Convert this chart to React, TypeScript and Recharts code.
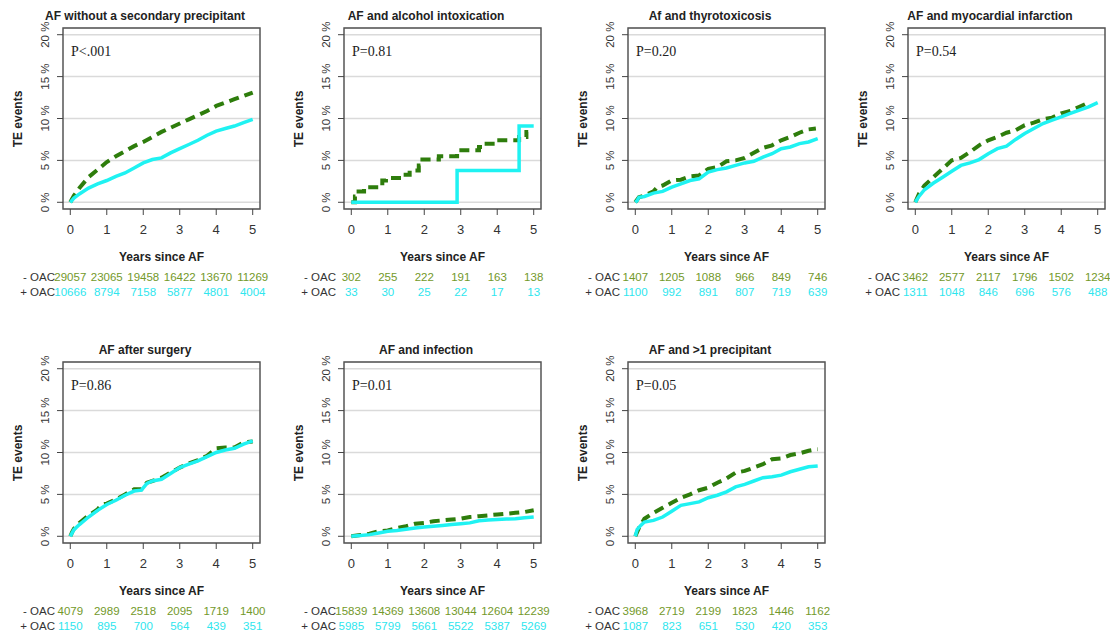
import React from 'react';
import { LineChart, Line, XAxis, YAxis, CartesianGrid, ReferenceArea } from 'recharts';

// ---------- data ----------
const yearTicks = [0, 1, 2, 3, 4, 5];
const pctTicks = [0, 5, 10, 15, 20];
const pctLabels = ['0 %', '5 %', '10 %', '15 %', '20 %'];

const panelTitles = [
  'AF without a secondary precipitant',
  'AF and alcohol intoxication',
  'Af and thyrotoxicosis',
  'AF and myocardial infarction',
  'AF after surgery',
  'AF and infection',
  'AF and >1 precipitant',
];
const pValues = ['P<.001', 'P=0.81', 'P=0.20', 'P=0.54', 'P=0.86', 'P=0.01', 'P=0.05'];

// numbers at risk
const riskNoOac1 = [29057, 23065, 19458, 16422, 13670, 11269];
const riskOac1 = [10666, 8794, 7158, 5877, 4801, 4004];
const riskNoOac2 = [302, 255, 222, 191, 163, 138];
const riskOac2 = [33, 30, 25, 22, 17, 13];
const riskNoOac3 = [1407, 1205, 1088, 966, 849, 746];
const riskOac3 = [1100, 992, 891, 807, 719, 639];
const riskNoOac4 = [3462, 2577, 2117, 1796, 1502, 1234];
const riskOac4 = [1311, 1048, 846, 696, 576, 488];
const riskNoOac5 = [4079, 2989, 2518, 2095, 1719, 1400];
const riskOac5 = [1150, 895, 700, 564, 439, 351];
const riskNoOac6 = [15839, 14369, 13608, 13044, 12604, 12239];
const riskOac6 = [5985, 5799, 5661, 5522, 5387, 5269];
const riskNoOac7 = [3968, 2719, 2199, 1823, 1446, 1162];
const riskOac7 = [1087, 823, 651, 530, 420, 353];

// cumulative incidence curves [years, %]
const curveNoOac1: [number, number][] = [[0,0],[0.1,0.8],[0.25,1.7],[0.5,3.0],[0.75,3.9],[1,4.8],[1.25,5.5],[1.5,6.1],[1.75,6.7],[2,7.2],[2.25,7.8],[2.5,8.4],[2.75,8.9],[3,9.4],[3.25,9.9],[3.5,10.4],[3.75,10.9],[4,11.5],[4.25,11.9],[4.5,12.3],[4.75,12.7],[5,13.1]];
const curveOac1: [number, number][] = [[0,0],[0.1,0.5],[0.25,1.0],[0.5,1.7],[0.75,2.2],[1,2.6],[1.25,3.1],[1.5,3.5],[1.75,4.1],[2,4.7],[2.25,5.1],[2.5,5.3],[2.75,5.9],[3,6.4],[3.25,6.9],[3.5,7.4],[3.75,8.0],[4,8.5],[4.25,8.8],[4.5,9.1],[4.75,9.5],[5,9.9]];
const curveNoOac2: [number, number][] = [[0,0],[0.1,0.7],[0.2,1.3],[0.35,1.8],[0.85,2.6],[0.95,2.9],[1.4,3.3],[1.6,3.8],[1.85,4.4],[1.95,5.1],[2.4,5.5],[2.9,6.2],[3.5,6.6],[3.6,7.0],[4.0,7.4],[4.6,7.8],[4.8,8.4],[4.85,8.4]];
const curveOac2: [number, number][] = [[0,0],[2.9,3.8],[4.6,9.1],[5,9.1]];
const curveNoOac3: [number, number][] = [[0,0],[0.1,0.6],[0.25,0.8],[0.5,1.3],[0.6,1.8],[0.75,2.0],[1,2.6],[1.25,2.7],[1.5,3.1],[1.75,3.2],[2,4.0],[2.25,4.2],[2.5,4.9],[2.75,5.0],[3,5.3],[3.25,5.9],[3.5,6.5],[3.75,6.8],[4,7.4],[4.25,7.8],[4.5,8.3],[4.75,8.7],[4.95,8.8]];
const curveOac3: [number, number][] = [[0,0],[0.05,0.2],[0.1,0.6],[0.25,0.7],[0.5,1.1],[0.75,1.3],[1,1.8],[1.25,2.2],[1.5,2.6],[1.75,2.8],[2,3.6],[2.25,3.9],[2.5,4.1],[2.75,4.4],[3,4.7],[3.25,4.9],[3.5,5.4],[3.75,5.8],[4,6.4],[4.25,6.6],[4.5,7.0],[4.75,7.2],[5,7.6]];
const curveNoOac4: [number, number][] = [[0,0],[0.1,1.0],[0.25,2.0],[0.5,3.0],[0.75,4.0],[1,5.0],[1.25,5.3],[1.5,6.0],[1.75,6.8],[2,7.4],[2.25,7.8],[2.5,8.3],[2.75,8.6],[3,9.2],[3.25,9.5],[3.5,9.9],[3.75,10.1],[4,10.6],[4.25,10.9],[4.5,11.4],[4.75,11.9]];
const curveOac4: [number, number][] = [[0,0],[0.1,0.7],[0.25,1.5],[0.5,2.3],[0.75,3.0],[1,3.7],[1.25,4.4],[1.5,4.7],[1.75,5.1],[2,5.8],[2.25,6.4],[2.5,6.7],[2.75,7.5],[3,8.2],[3.25,8.8],[3.5,9.4],[3.75,9.8],[4,10.2],[4.25,10.6],[4.5,11.0],[4.75,11.4],[5,11.9]];
const curveNoOac5: [number, number][] = [[0,0],[0.05,0.5],[0.1,0.9],[0.25,1.6],[0.5,2.5],[0.75,3.2],[0.85,3.8],[1,3.9],[1.25,4.4],[1.5,5.0],[1.75,5.6],[1.95,5.6],[2.1,6.4],[2.25,6.6],[2.5,7.0],[2.75,7.6],[3,8.2],[3.25,8.7],[3.5,9.1],[3.75,9.6],[4,10.5],[4.25,10.6],[4.5,10.6],[4.75,11.2],[5,11.3]];
const curveOac5: [number, number][] = [[0,0],[0.05,0.4],[0.1,0.8],[0.25,1.4],[0.5,2.3],[0.75,3.1],[1,3.8],[1.25,4.3],[1.5,4.9],[1.75,5.4],[1.95,5.5],[2.1,6.3],[2.25,6.6],[2.5,6.8],[2.75,7.5],[3,8.2],[3.25,8.6],[3.5,9.0],[3.75,9.5],[4,10.0],[4.25,10.3],[4.5,10.5],[4.75,11.0],[5,11.4]];
const curveNoOac6: [number, number][] = [[0,0],[0.25,0.15],[0.5,0.3],[0.75,0.6],[1,0.7],[1.25,1.0],[1.5,1.2],[1.75,1.5],[2,1.6],[2.25,1.8],[2.5,1.9],[2.75,2.0],[3,2.1],[3.25,2.3],[3.5,2.4],[3.75,2.5],[4,2.6],[4.25,2.7],[4.5,2.8],[4.75,2.9],[5,3.1]];
const curveOac6: [number, number][] = [[0,0],[0.25,0.1],[0.5,0.2],[0.75,0.4],[1,0.6],[1.25,0.7],[1.5,0.85],[1.75,1.0],[2,1.1],[2.25,1.2],[2.5,1.3],[2.75,1.4],[3,1.5],[3.25,1.6],[3.5,1.85],[3.75,1.95],[4,2.0],[4.25,2.05],[4.5,2.1],[4.75,2.2],[5,2.3]];
const curveNoOac7: [number, number][] = [[0,0],[0.1,1.0],[0.25,2.1],[0.5,2.8],[0.75,3.4],[1,4.0],[1.25,4.6],[1.5,5.0],[1.75,5.5],[2,5.8],[2.25,6.4],[2.5,6.9],[2.75,7.6],[3,7.8],[3.25,8.2],[3.5,8.6],[3.75,9.2],[4,9.3],[4.25,9.7],[4.5,9.9],[4.75,10.2],[5,10.4]];
const curveOac7: [number, number][] = [[0,0],[0.05,0.8],[0.15,1.3],[0.25,1.7],[0.5,1.9],[0.75,2.3],[1,3.0],[1.25,3.7],[1.5,3.9],[1.75,4.1],[2,4.6],[2.25,4.9],[2.5,5.3],[2.75,5.9],[3,6.2],[3.25,6.6],[3.5,7.0],[3.75,7.1],[4,7.3],[4.25,7.7],[4.5,8.0],[4.75,8.3],[5,8.4]];

// ---------- styles ----------
const GREEN = '#2E7D0C';
const CYAN = '#1FF2F2';
const GREEN_NUM = '#73992A';
const CYAN_NUM = '#2EE6EE';
const TEXT = '#333333';
const SANS = '"Liberation Sans", Arial, sans-serif';
const SERIF = '"Liberation Serif", "Times New Roman", serif';

const CH_W = 280;
const CH_H = 300;
const M_TOP = 28;
const M_RIGHT = 20;
const Y_W = 63;
const X_H = 91;

type PanelSpec = {
  left: number;
  top: number;
  title: string;
  p: string;
  noOac: [number, number][];
  oac: [number, number][];
  riskNo: number[];
  riskYes: number[];
  step?: boolean;
};

const toRows = (c: [number, number][]) => c.map(([t, v]) => ({ t, v }));

const makeXTick = (riskNo: number[], riskYes: number[]) => (props: any) => {
  const { x, y, payload } = props;
  const i = yearTicks.indexOf(payload.value);
  return (
    <g>
      <text x={x} y={y + 17} textAnchor="middle" fontSize={13} fill={TEXT} fontFamily={SANS}>
        {payload.value}
      </text>
      <text x={x} y={y + 64} textAnchor="middle" fontSize={11.5} fill={GREEN_NUM} fontFamily={SANS}>
        {riskNo[i]}
      </text>
      <text x={x} y={y + 79} textAnchor="middle" fontSize={11.5} fill={CYAN_NUM} fontFamily={SANS}>
        {riskYes[i]}
      </text>
    </g>
  );
};

const YTick = (props: any) => {
  const { x, y, payload } = props;
  const i = pctTicks.indexOf(payload.value);
  const bx = x - 6;
  return (
    <text
      x={bx}
      y={y}
      transform={`rotate(-90, ${bx}, ${y})`}
      textAnchor="middle"
      fontSize={11.5}
      fill={TEXT}
      fontFamily={SANS}
    >
      {pctLabels[i]}
    </text>
  );
};

function Panel({ spec }: { spec: PanelSpec }) {
  const plotL = Y_W;
  const plotR = CH_W - M_RIGHT;
  const plotCx = (plotL + plotR) / 2;
  const plotCy = (M_TOP + (CH_H - X_H)) / 2;
  return (
    <div style={{ position: 'absolute', left: spec.left, top: spec.top, width: CH_W, height: CH_H }}>
      <LineChart width={CH_W} height={CH_H} margin={{ top: M_TOP, right: M_RIGHT, bottom: 0, left: 0 }}>
        <CartesianGrid horizontal vertical={false} stroke="#dadada" strokeWidth={1.5} />
        <XAxis
          dataKey="t"
          type="number"
          domain={[-0.2, 5.2]}
          ticks={yearTicks}
          allowDataOverflow
          height={X_H}
          axisLine={false}
          tickLine={{ stroke: '#444', strokeWidth: 1 }}
          tickSize={6}
          tick={makeXTick(spec.riskNo, spec.riskYes)}
          interval={0}
        />
        <YAxis
          type="number"
          domain={[-0.8, 20.8]}
          ticks={pctTicks}
          allowDataOverflow
          width={Y_W}
          axisLine={false}
          tickLine={{ stroke: '#444', strokeWidth: 1 }}
          tickSize={6}
          tick={<YTick />}
          interval={0}
        />
        <ReferenceArea x1={-0.2} x2={5.2} y1={-0.8} y2={20.8} fill="none" stroke="#555" strokeWidth={1.5} />
        <Line
          data={toRows(spec.noOac)}
          dataKey="v"
          type={spec.step ? 'stepAfter' : 'linear'}
          stroke={GREEN}
          strokeWidth={4}
          strokeDasharray="10 6"
          dot={false}
          isAnimationActive={false}
        />
        <Line
          data={toRows(spec.oac)}
          dataKey="v"
          type={spec.step ? 'stepAfter' : 'linear'}
          stroke={CYAN}
          strokeWidth={3.5}
          dot={false}
          isAnimationActive={false}
        />
      </LineChart>
      {/* title */}
      <div
        style={{
          position: 'absolute', left: 145 - 150, width: 300, top: 8, textAlign: 'center',
          fontFamily: SANS, fontWeight: 'bold', fontSize: 12, color: '#222', lineHeight: '16px',
        }}
      >
        {spec.title}
      </div>
      {/* y label */}
      <div
        style={{
          position: 'absolute', left: 18 - 50, top: plotCy - 8, width: 100, height: 16, lineHeight: '16px',
          textAlign: 'center', transform: 'rotate(-90deg)', fontFamily: SANS, fontWeight: 'bold', fontSize: 12, color: '#222',
        }}
      >
        TE events
      </div>
      {/* p value */}
      <div
        style={{
          position: 'absolute', left: plotL + 8, top: 43, fontFamily: SERIF, fontSize: 14, color: '#222', lineHeight: '18px',
        }}
      >
        {spec.p}
      </div>
      {/* x label */}
      <div
        style={{
          position: 'absolute', left: plotCx - 100, width: 200, top: 249, textAlign: 'center',
          fontFamily: SANS, fontWeight: 'bold', fontSize: 12, color: '#222', lineHeight: '16px',
        }}
      >
        Years since AF
      </div>
      {/* risk table row labels */}
      <div
        style={{
          position: 'absolute', left: 0, width: 55, top: 270, textAlign: 'right',
          fontFamily: SANS, fontSize: 11.5, color: TEXT, lineHeight: '15px',
        }}
      >
        - OAC
        <br />+ OAC
      </div>
    </div>
  );
}

const panels: PanelSpec[] = [
  { left: 0, top: 0, title: panelTitles[0], p: pValues[0], noOac: curveNoOac1, oac: curveOac1, riskNo: riskNoOac1, riskYes: riskOac1 },
  { left: 281, top: 0, title: panelTitles[1], p: pValues[1], noOac: curveNoOac2, oac: curveOac2, riskNo: riskNoOac2, riskYes: riskOac2, step: true },
  { left: 565, top: 0, title: panelTitles[2], p: pValues[2], noOac: curveNoOac3, oac: curveOac3, riskNo: riskNoOac3, riskYes: riskOac3 },
  { left: 845, top: 0, title: panelTitles[3], p: pValues[3], noOac: curveNoOac4, oac: curveOac4, riskNo: riskNoOac4, riskYes: riskOac4 },
  { left: 0, top: 334, title: panelTitles[4], p: pValues[4], noOac: curveNoOac5, oac: curveOac5, riskNo: riskNoOac5, riskYes: riskOac5 },
  { left: 281, top: 334, title: panelTitles[5], p: pValues[5], noOac: curveNoOac6, oac: curveOac6, riskNo: riskNoOac6, riskYes: riskOac6 },
  { left: 565, top: 334, title: panelTitles[6], p: pValues[6], noOac: curveNoOac7, oac: curveOac7, riskNo: riskNoOac7, riskYes: riskOac7 },
];

export default function App() {
  return (
    <div
      style={{
        position: 'absolute', left: 0, top: 0, width: 1110, height: 632, background: '#fff', overflow: 'hidden',
        fontFamily: SANS,
      }}
    >
      {panels.map((s, i) => (
        <Panel key={i} spec={s} />
      ))}
    </div>
  );
}
